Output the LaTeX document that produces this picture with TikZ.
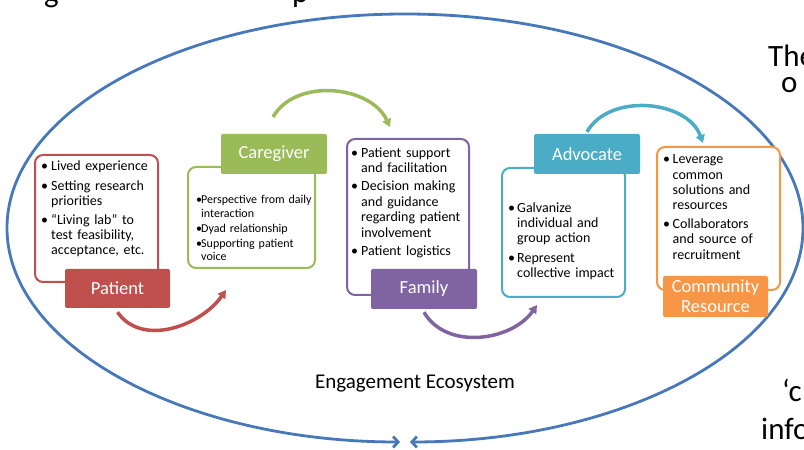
\documentclass[tikz,border=0pt]{standalone}
\usepackage{fontspec}
\setmainfont{Carlito}
\usetikzlibrary{arrows.meta}

\definecolor{patientred}{HTML}{C0504D}
\definecolor{carergreen}{HTML}{9BBB59}
\definecolor{familypurple}{HTML}{8064A2}
\definecolor{advocateteal}{HTML}{4BACC6}
\definecolor{resourceorange}{HTML}{F79646}
\definecolor{ecoblue}{HTML}{4779BA}

% bullet point with hanging indent
\newcommand{\notept}[2][10pt]{\par\hangindent=#1\hangafter=1\noindent\makebox[#1][l]{\textbullet}#2\par}

\begin{document}
\begin{tikzpicture}[x=1pt, y=1pt,
  every node/.style={font=\fontsize{14}{15}\selectfont},
  panel/.style={draw=#1, line width=2pt, rounded corners=8pt, fill=white, inner sep=0pt},
  tag/.style={fill=#1, rounded corners=2pt, text=white, inner sep=0pt, minimum width=106pt, minimum height=40pt, font=\fontsize{18.5}{20}\selectfont, align=center},
  notes/.style={anchor=north west, inner sep=0pt, text width=#1},
  hop/.style={draw=#1, line width=3.5pt, -{Triangle[length=8pt,width=9pt]}},
  eco/.style={draw=ecoblue, line width=2.8pt, -{Straight Barb[length=5pt,width=11pt]}, shorten >=5pt},
  cutoff/.style={anchor=base west, inner sep=0pt, font=\fontsize{31}{31}\selectfont}]

  \path[fill=white, use as bounding box] (0,0) rectangle (804,450);

  % the ecosystem loop
  \coordinate (ecotop) at (405,436);
  \draw[eco] (ecotop) arc[start angle=90, end angle=270, x radius=398, y radius=214];
  \draw[eco] (ecotop) arc[start angle=90, end angle=-90, x radius=398, y radius=214];

  % panels
  \node[panel=patientred, minimum width=123pt, minimum height=127pt] (patient) at (96.5,231.5) {};
  \node[panel=carergreen, minimum width=127pt, minimum height=101pt] (caregiver) at (251.5,232.5) {};
  \node[panel=familypurple, minimum width=122pt, minimum height=156pt] (family) at (408,233) {};
  \node[panel=advocateteal, minimum width=123pt, minimum height=129pt] (advocate) at (563.5,217.5) {};
  \node[panel=resourceorange, minimum width=123pt, minimum height=143pt] (resource) at (718.5,231.5) {};

  % role tags
  \node[tag=patientred, minimum width=105pt, minimum height=39pt] (patientlbl) at (117.5,161.5) {Patient};
  \node[tag=carergreen] (caregiverlbl) at (274,296) {Caregiver};
  \node[tag=familypurple] (familylbl) at (424,161) {Family};
  \node[tag=advocateteal] (advocatelbl) at (587,296) {Advocate};
  \node[tag=resourceorange, minimum width=105pt, minimum height=41pt] (resourcelbl) at (715.5,153.5) {Community\\Resource};

  % bullet notes
  \node[notes=118pt, font={\fontsize{14}{15}\selectfont\setlength{\parskip}{4.5pt}}] (patientnotes) at (41,299)
    {\notept{Lived experience}\notept{Setting research\newline priorities}\notept{“Living lab” to\newline test feasibility,\newline acceptance, etc.}};
  \node[notes=122pt, font={\fontsize{12}{13.5}\selectfont\setlength{\parskip}{1.5pt}}] (caregivernotes) at (196,261.5)
    {\notept[5pt]{Perspective from daily\newline interaction}\notept[5pt]{Dyad relationship}\notept[5pt]{Supporting patient\newline voice}};
  \node[notes=118pt, font={\fontsize{14}{15.5}\selectfont\setlength{\parskip}{2.5pt}}] (familynotes) at (351,311)
    {\notept{Patient support\newline and facilitation}\notept{Decision making\newline and guidance\newline regarding patient\newline involvement}\notept{Patient logistics}};
  \node[notes=115pt, font={\fontsize{14}{15}\selectfont\setlength{\parskip}{5pt}}] (advocatenotes) at (508,258)
    {\notept[9pt]{Galvanize\newline individual and\newline group action}\notept[9pt]{Represent\newline collective impact}};
  \node[notes=115pt, font={\fontsize{14}{15.3}\selectfont\setlength{\parskip}{3.5pt}}] (resourcenotes) at (663,305)
    {\notept[9.5pt]{Leverage\newline common\newline solutions and\newline resources}\notept[9.5pt]{Collaborators\newline and source of\newline recruitment}};

  % hand-over arrows
  \coordinate (careIn) at (226,160);
  \coordinate (careOut) at (273,333);
  \coordinate (familyIn) at (390,323);
  \coordinate (advocateIn) at (537,145);
  \coordinate (resourceIn) at (703,307);
  \draw[hop=patientred] ([yshift=-4pt]patientlbl.south) to[out=-55,in=-125] (careIn);
  \draw[hop=carergreen] (careOut) to[out=60,in=115] (familyIn);
  \draw[hop=familypurple] ([yshift=-3pt]familylbl.south) to[out=-60,in=-125] (advocateIn);
  \draw[hop=advocateteal] ([yshift=2pt]advocatelbl.north) to[out=60,in=110] (resourceIn);

  \node[font=\fontsize{21}{21}\selectfont] (ecosystem) at (415,66) {Engagement Ecosystem};

  % slide text running off the edges
  \node[cutoff] (titleg) at (44,447.5) {g};
  \node[cutoff] (titlep) at (292,447.5) {p};
  \node[cutoff] (sidethe) at (768,383) {The};
  \node[cutoff] (sideo) at (781,357) {o};
  \node[cutoff] (sidequote) at (782,48) {‘c};
  \node[cutoff] (sideinfo) at (761,10) {info};
\end{tikzpicture}
\end{document}
